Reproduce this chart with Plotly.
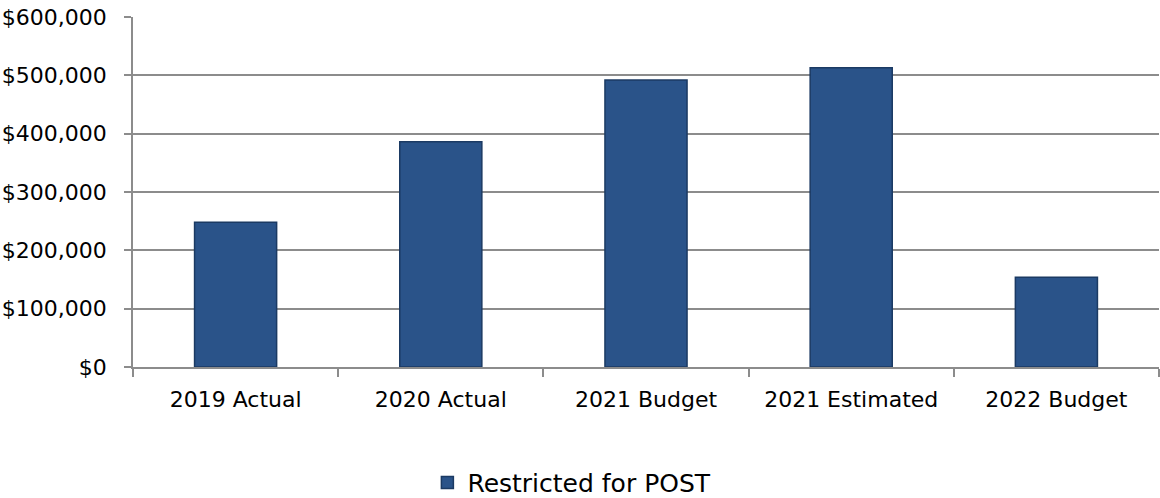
import plotly.graph_objects as go

categories = ["2019 Actual", "2020 Actual", "2021 Budget", "2021 Estimated", "2022 Budget"]
values = [248000, 386000, 492000, 513000, 154000]
series_name = "Restricted for POST"
y_ticks = [0, 100000, 200000, 300000, 400000, 500000, 600000]
y_tick_labels = ["$0", "$100,000", "$200,000", "$300,000", "$400,000", "$500,000", "$600,000"]

font_family = "'DejaVu Sans', sans-serif"
grid_color = "#8c8c8c"

fig = go.Figure()
fig.add_trace(go.Bar(
    x=categories, y=values, name=series_name,
    marker=dict(color="#2A5389", line=dict(color="#1B3A63", width=1.5)),
    width=0.4, showlegend=True,
))

fig.update_layout(
    width=1160, height=498,
    margin=dict(l=133, r=1, t=17, b=131, autoexpand=False),
    paper_bgcolor="white", plot_bgcolor="white",
    font=dict(family=font_family, size=22, color="black"),
    showlegend=True,
    legend=dict(orientation="h", xref="container", x=0.493, xanchor="center",
                y=-0.331, yanchor="middle", font=dict(size=25), itemwidth=30),
)
fig.update_xaxes(
    automargin=False,
    showline=True, linecolor=grid_color, linewidth=1.5,
    ticks="outside", tickson="boundaries", ticklen=8, tickcolor=grid_color, tickwidth=1.5,
    showgrid=False, tickfont=dict(size=22), ticklabelstandoff=12,
)
fig.update_yaxes(
    automargin=False,
    range=[0, 600000], tickvals=y_ticks, ticktext=y_tick_labels,
    showline=True, linecolor=grid_color, linewidth=1.5,
    ticks="outside", ticklen=7, tickcolor=grid_color, tickwidth=1.5,
    showgrid=True, gridcolor=grid_color, gridwidth=1.5, zeroline=False,
    tickfont=dict(size=22), ticklabelstandoff=13,
)

fig.write_html("out.html", config={"displayModeBar": False},
               post_script="document.body.style.margin='0';")
